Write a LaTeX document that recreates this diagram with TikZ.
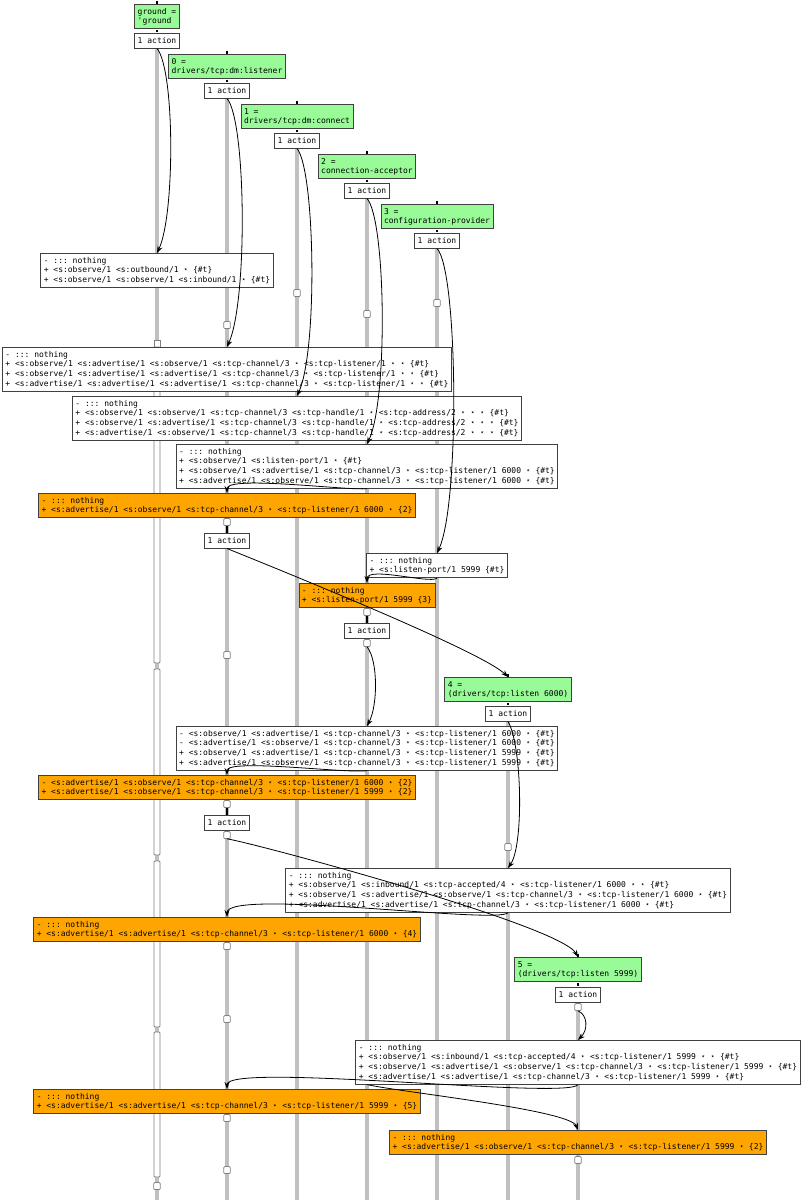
\documentclass[tikz,border=0pt]{standalone}
\usepackage{fontspec}
\setmonofont{DejaVu Sans Mono}
\usetikzlibrary{arrows.meta}
\definecolor{grn}{HTML}{98FB98}
\definecolor{orng}{HTML}{FFA500}
\definecolor{lanegray}{HTML}{C0C0C0}
\definecolor{bdr}{HTML}{404040}
\newcommand\Lx[1]{\rule[-2.5pt]{0pt}{9.7pt}#1}
\pgfdeclarelayer{bg}
\pgfsetlayers{bg,main}
\tikzset{
  every node/.style={font=\ttfamily\fontsize{8}{9.7}\selectfont, align=left, inner xsep=3pt, inner ysep=2.5pt, anchor=north, line width=0.8pt},
  gbox/.style={draw=bdr, fill=grn},
  wbox/.style={draw=bdr, fill=white},
  obox/.style={draw=bdr, fill=orng},
  act/.style={draw=bdr, fill=white},
  lane/.style={draw=lanegray, line width=4pt},
  port/.style={draw=gray, fill=white, rounded corners=1pt, minimum width=6.5pt, minimum height=7pt, inner sep=0pt, anchor=center, line width=0.7pt},
  edgeline/.style={-{Stealth[length=7pt,width=5pt]}, line width=0.8pt, black},
  dot/.style={fill=black, inner sep=0pt, minimum size=2.5pt, anchor=center},
  tick/.style={line width=2pt, black},
  bar/.style={draw=gray, fill=white, line width=0.8pt, rounded corners=1pt},
}
\begin{document}
\begin{tikzpicture}[x=1pt,y=-1pt]
\useasboundingbox (0,0) rectangle (804,1200);
\coordinate (bot) at (0,1200);
% green boxes and actions
\node[gbox] (g0) at (157,4) {\Lx{ground =}\\\Lx{'ground}};
\node[act] (a0) at (157,33) {\Lx{1 action}};
\node[gbox] (g1) at (227,54) {\Lx{0 =}\\\Lx{drivers/tcp:dm:listener}};
\node[act] (a1) at (227,83) {\Lx{1 action}};
\node[gbox] (g2) at (297,104) {\Lx{1 =}\\\Lx{drivers/tcp:dm:connect}};
\node[act] (a2) at (297,133) {\Lx{1 action}};
\node[gbox] (g3) at (367,154) {\Lx{2 =}\\\Lx{connection-acceptor}};
\node[act] (a3) at (367,183) {\Lx{1 action}};
\node[gbox] (g4) at (437,204) {\Lx{3 =}\\\Lx{configuration-provider}};
\node[act] (a4) at (437,233) {\Lx{1 action}};
\node[gbox] (g5) at (508,677) {\Lx{4 =}\\\Lx{(drivers/tcp:listen 6000)}};
\node[act] (a5) at (508,706) {\Lx{1 action}};
\node[gbox] (g6) at (578,957) {\Lx{5 =}\\\Lx{(drivers/tcp:listen 5999)}};
\node[act] (a6) at (578,987) {\Lx{1 action}};
\node[act] (a1b) at (227,533) {\Lx{1 action}};
\node[act] (a3b) at (367,623) {\Lx{1 action}};
\node[act] (a1c) at (227,815) {\Lx{1 action}};
% background and lanes
\begin{pgfonlayer}{bg}
\fill[white] (0,0) rectangle (804,1200);
\foreach \n in {a0,a1,a2,a3,a4,a5,a6} \draw[lane] (\n.south) -- (\n.south |- bot);
\end{pgfonlayer}
% left activation bars
\draw[bar, rounded corners=0pt] (154,340) rectangle (160,347);
\draw[bar] (154,347) rectangle (160,663);
\draw[bar] (154,669) rectangle (160,855);
\draw[bar] (154,861) rectangle (160,1027);
\draw[bar] (154,1032) rectangle (160,1177);
% ports
\node[port] (p2a) at (297,293) {};
\node[port] (p4a) at (437,303) {};
\node[port] (p3a) at (367,314) {};
\node[port] (p1a) at (227,325) {};
\node[port] (p1b) at (227,522) {};
\node[port] (p1c) at (227,655) {};
\node[port] (p3b) at (367,612) {};
\node[port] (p3c) at (367,643) {};
\node[port] (p1d) at (227,804) {};
\node[port] (p1e) at (227,835) {};
\node[port] (p5a) at (508,847) {};
\node[port] (p1f) at (227,946) {};
\node[port] (p6a) at (578,1007) {};
\node[port] (p1g) at (227,1019) {};
\node[port] (p1h) at (227,1118) {};
\node[port] (p6b) at (578,1160) {};
\node[port] (p1i) at (227,1170) {};
\node[port] (p0a) at (157,1186) {};
% state boxes
\node[wbox] (b1) at (157,253) {\Lx{- ::: nothing}\\\Lx{+ <s:observe/1 <s:outbound/1 ⋆ \{\#t\}}\\\Lx{+ <s:observe/1 <s:observe/1 <s:inbound/1 ⋆ \{\#t\}}};
\node[wbox] (b2) at (227,347) {\Lx{- ::: nothing}\\\Lx{+ <s:observe/1 <s:advertise/1 <s:observe/1 <s:tcp-channel/3 ⋆ <s:tcp-listener/1 ⋆ ⋆ \{\#t\}}\\\Lx{+ <s:observe/1 <s:advertise/1 <s:advertise/1 <s:tcp-channel/3 ⋆ <s:tcp-listener/1 ⋆ ⋆ \{\#t\}}\\\Lx{+ <s:advertise/1 <s:advertise/1 <s:advertise/1 <s:tcp-channel/3 ⋆ <s:tcp-listener/1 ⋆ ⋆ \{\#t\}}};
\node[wbox] (b3) at (297,396) {\Lx{- ::: nothing}\\\Lx{+ <s:observe/1 <s:observe/1 <s:tcp-channel/3 <s:tcp-handle/1 ⋆ <s:tcp-address/2 ⋆ ⋆ ⋆ \{\#t\}}\\\Lx{+ <s:observe/1 <s:advertise/1 <s:tcp-channel/3 <s:tcp-handle/1 ⋆ <s:tcp-address/2 ⋆ ⋆ ⋆ \{\#t\}}\\\Lx{+ <s:advertise/1 <s:observe/1 <s:tcp-channel/3 <s:tcp-handle/1 ⋆ <s:tcp-address/2 ⋆ ⋆ ⋆ \{\#t\}}};
\node[wbox] (b4) at (367,444) {\Lx{- ::: nothing}\\\Lx{+ <s:observe/1 <s:listen-port/1 ⋆ \{\#t\}}\\\Lx{+ <s:observe/1 <s:advertise/1 <s:tcp-channel/3 ⋆ <s:tcp-listener/1 6000 ⋆ \{\#t\}}\\\Lx{+ <s:advertise/1 <s:observe/1 <s:tcp-channel/3 ⋆ <s:tcp-listener/1 6000 ⋆ \{\#t\}}};
\node[obox] (o1) at (227,493) {\Lx{- ::: nothing}\\\Lx{+ <s:advertise/1 <s:observe/1 <s:tcp-channel/3 ⋆ <s:tcp-listener/1 6000 ⋆ \{2\}}};
\node[wbox] (b5) at (437,553) {\Lx{- ::: nothing}\\\Lx{+ <s:listen-port/1 5999 \{\#t\}}};
\node[obox] (o2) at (367,583) {\Lx{- ::: nothing}\\\Lx{+ <s:listen-port/1 5999 \{3\}}};
\node[wbox] (b6) at (367,726) {\Lx{- <s:observe/1 <s:advertise/1 <s:tcp-channel/3 ⋆ <s:tcp-listener/1 6000 ⋆ \{\#t\}}\\\Lx{- <s:advertise/1 <s:observe/1 <s:tcp-channel/3 ⋆ <s:tcp-listener/1 6000 ⋆ \{\#t\}}\\\Lx{+ <s:observe/1 <s:advertise/1 <s:tcp-channel/3 ⋆ <s:tcp-listener/1 5999 ⋆ \{\#t\}}\\\Lx{+ <s:advertise/1 <s:observe/1 <s:tcp-channel/3 ⋆ <s:tcp-listener/1 5999 ⋆ \{\#t\}}};
\node[obox] (o3) at (227,775) {\Lx{- <s:advertise/1 <s:observe/1 <s:tcp-channel/3 ⋆ <s:tcp-listener/1 6000 ⋆ \{2\}}\\\Lx{+ <s:advertise/1 <s:observe/1 <s:tcp-channel/3 ⋆ <s:tcp-listener/1 5999 ⋆ \{2\}}};
\node[wbox] (b7) at (508,868) {\Lx{- ::: nothing}\\\Lx{+ <s:observe/1 <s:inbound/1 <s:tcp-accepted/4 ⋆ <s:tcp-listener/1 6000 ⋆ ⋆ \{\#t\}}\\\Lx{+ <s:observe/1 <s:advertise/1 <s:observe/1 <s:tcp-channel/3 ⋆ <s:tcp-listener/1 6000 ⋆ \{\#t\}}\\\Lx{+ <s:advertise/1 <s:advertise/1 <s:tcp-channel/3 ⋆ <s:tcp-listener/1 6000 ⋆ \{\#t\}}};
\node[obox] (o4) at (227,917) {\Lx{- ::: nothing}\\\Lx{+ <s:advertise/1 <s:advertise/1 <s:tcp-channel/3 ⋆ <s:tcp-listener/1 6000 ⋆ \{4\}}};
\node[wbox] (b8) at (578,1040) {\Lx{- ::: nothing}\\\Lx{+ <s:observe/1 <s:inbound/1 <s:tcp-accepted/4 ⋆ <s:tcp-listener/1 5999 ⋆ ⋆ \{\#t\}}\\\Lx{+ <s:observe/1 <s:advertise/1 <s:observe/1 <s:tcp-channel/3 ⋆ <s:tcp-listener/1 5999 ⋆ \{\#t\}}\\\Lx{+ <s:advertise/1 <s:advertise/1 <s:tcp-channel/3 ⋆ <s:tcp-listener/1 5999 ⋆ \{\#t\}}};
\node[obox] (o5) at (227,1089) {\Lx{- ::: nothing}\\\Lx{+ <s:advertise/1 <s:advertise/1 <s:tcp-channel/3 ⋆ <s:tcp-listener/1 5999 ⋆ \{5\}}};
\node[obox] (o6) at (578,1130) {\Lx{- ::: nothing}\\\Lx{+ <s:advertise/1 <s:observe/1 <s:tcp-channel/3 ⋆ <s:tcp-listener/1 5999 ⋆ \{2\}}};
% black markers
\foreach \g/\a in {g0/a0,g1/a1,g2/a2,g3/a3,g4/a4,g5/a5,g6/a6}{
  \node[dot, anchor=south] at (\g.north) {};
  \path (\g.south) -- (\a.north) node[dot, midway] {};
}
\draw[tick] (p1b.south) -- (a1b.north);
\draw[tick] (p3b.south) -- (a3b.north);
\draw[tick] (p1d.south) -- (a1c.north);
% connectors
\draw[edgeline] (a0.south) .. controls (175,70) and (175,215) .. (b1.north);
\draw[edgeline] (a1.south) .. controls (246,120) and (248,300) .. (b2.north);
\draw[edgeline] (a2.south) .. controls (315,170) and (318,350) .. (b3.north);
\draw[edgeline] (a3.south) .. controls (386,220) and (388,400) .. (b4.north);
\draw[edgeline] (a4.south) .. controls (458,270) and (460,505) .. (b5.north);
\draw[edgeline] (b4.south) .. controls (350,491) and (227,475) .. (o1.north);
\draw[edgeline] (b5.south) .. controls (430,584) and (367,566) .. (o2.north);
\draw[edgeline] (a1b.south) .. controls (260,562) and (480,650) .. (g5.north);
\draw[edgeline] (p3c.south) .. controls (378,660) and (378,705) .. (b6.north);
\draw[edgeline] (b6.south) .. controls (350,774) and (227,758) .. (o3.north);
\draw[edgeline] (a5.south) .. controls (522,745) and (524,845) .. (b7.north);
\draw[edgeline] (p1e.south) .. controls (250,842) and (560,925) .. (g6.north);
\draw[edgeline] (b7.south) .. controls (500,925) and (227,888) .. (o4.north);
\draw[edgeline] (p6a.south) .. controls (588,1015) and (588,1030) .. (b8.north);
\draw[edgeline] (b8.south) .. controls (568,1100) and (227,1062) .. (o5.north);
\draw[edgeline] (b8.south -| a3.south) .. controls (400,1092) and (570,1110) .. (o6.north);
\end{tikzpicture}
\end{document}
